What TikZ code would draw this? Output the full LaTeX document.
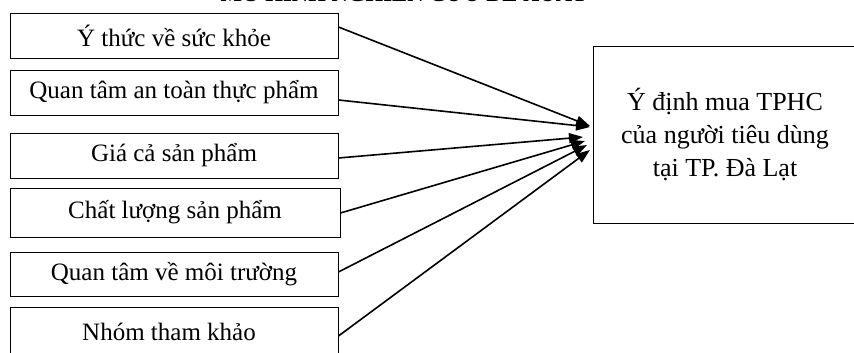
\documentclass[tikz,border=0pt]{standalone}
\usepackage{fontspec}
\setmainfont{Liberation Serif}
\usetikzlibrary{arrows.meta}
\begin{document}
\begin{tikzpicture}[x=1pt,y=1pt,
  factor/.style={draw=black,line width=0.9pt,minimum width=328pt,minimum height=45pt,inner sep=0pt,font=\fontsize{25}{30}\selectfont},
  target/.style={draw=black,line width=0.9pt,minimum width=264pt,minimum height=177pt,inner sep=0pt,align=center,font=\fontsize{26}{33}\selectfont},
  link/.style={draw=black,line width=1.6pt,-{Triangle[length=14pt,width=10pt]}}]
\useasboundingbox (0,0) rectangle (854,353);
\clip (0,0) rectangle (854,353);
\node[font=\bfseries\fontsize{22.7}{26}\selectfont,anchor=base] (title) at (404,351) {MÔ HÌNH NGHIÊN CỨU ĐỀ XUẤT};
\node[factor] (b1) at (174,317.5) {Ý thức về sức khỏe};
\node[factor] (b2) at (174,260.5) {Quan tâm an toàn thực phẩm};
\node[factor] (b3) at (174,197.5) {Giá cả sản phẩm};
\node[factor,minimum width=330pt,minimum height=49pt] (b4) at (175,140.5) {Chất lượng sản phẩm};
\node[factor,minimum height=44pt] (b5) at (174,79) {Quan tâm về môi trường};
\node[factor,minimum height=50pt] (b6) at (174,21) {Nhóm tham khảo\hspace*{10pt}};
\node[target] (goal) at (725,218.5) {Ý định mua TPHC\\của người tiêu dùng\\tại TP. Đà Lạt};
\coordinate (t1) at (590,227);
\coordinate (t2) at (590,226);
\coordinate (t3) at (583,216);
\coordinate (t4) at (585,212);
\coordinate (t5) at (587,208);
\coordinate (t6) at (590,203);
\draw[link] ([yshift=8.5pt]b1.east) -- (t1);
\draw[link] ([yshift=-7.5pt]b2.east) -- (t2);
\draw[link] ([yshift=-2.5pt]b3.east) -- (t3);
\draw[link] ([yshift=-0.5pt]b4.east) -- (t4);
\draw[link] ([yshift=2pt]b5.east) -- (t5);
\draw[link] ([yshift=-4pt]b6.east) -- (t6);
\end{tikzpicture}
\end{document}
